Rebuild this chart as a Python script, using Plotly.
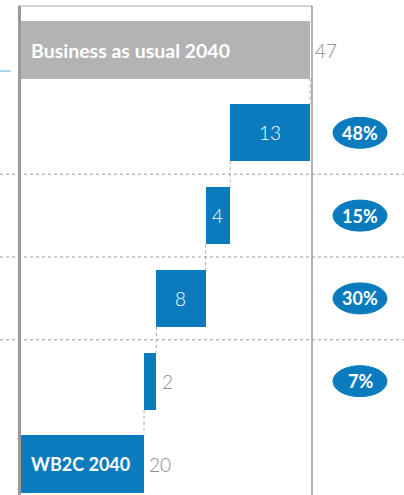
import plotly.graph_objects as go

# ---- data ----
categories = ["Business as usual 2040", "Step 1", "Step 2", "Step 3", "Step 4", "WB2C 2040"]
values = [47, 13, 4, 8, 2, 20]
kinds = ["total", "step", "step", "step", "step", "total"]
shares = ["48%", "15%", "30%", "7%"]
total_names = {0: "Business as usual 2040", 5: "WB2C 2040"}

# ---- styles ----
BLUE = "#0a7bbd"
GREY_BAR = "#b3b3b3"
GREY_TXT = "#8c8c8c"
FONT = "Lato"
name_sizes = {0: 19.5, 5: 18}

# compute waterfall bases
bases = []
level = 0
for v, k in zip(values, kinds):
    if k == "total":
        bases.append(0)
        level = v
    else:
        level -= v
        bases.append(level)

colors = [GREY_BAR if i == 0 else BLUE for i in range(len(values))]
idx = list(range(len(categories)))

fig = go.Figure()
fig.add_trace(go.Bar(
    y=idx, x=values, base=bases, orientation="h",
    marker=dict(color=colors, line=dict(width=0)),
    width=0.69, hoverinfo="skip", showlegend=False,
))

annotations = []
for i, (v, b, k) in enumerate(zip(values, bases, kinds)):
    if k == "total":
        annotations.append(dict(x=0, y=i, xref="x", yref="y", text="<b>%s</b>" % total_names[i],
                                xanchor="left", xshift=8, showarrow=False,
                                font=dict(family=FONT, size=name_sizes[i], color="white")))
        annotations.append(dict(x=b + v, y=i, xref="x", yref="y", text=str(v),
                                xanchor="left", xshift=3, showarrow=False,
                                font=dict(family=FONT, size=19, color=GREY_TXT, weight=300)))
    else:
        if v >= 4:
            annotations.append(dict(x=b + v / 2, y=i, xref="x", yref="y", text=str(v),
                                    xanchor="center", showarrow=False,
                                    font=dict(family=FONT, size=19, color="white", weight=300)))
        else:
            annotations.append(dict(x=b + v, y=i, xref="x", yref="y", text=str(v),
                                    xanchor="left", xshift=4, showarrow=False,
                                    font=dict(family=FONT, size=19, color=GREY_TXT, weight=300)))

shapes = []
# connectors
levels = [b + v if k == "total" else b for v, b, k in zip(values, bases, kinds)]
for i in range(len(values) - 1):
    shapes.append(dict(type="line", xref="x", yref="y", x0=levels[i], x1=levels[i],
                       y0=i + 0.345, y1=i + 1 - 0.345,
                       line=dict(color="#a8a8a8", width=1, dash="dot")))
# separators between step rows
W = 291.0
for i in range(1, 4):
    shapes.append(dict(type="line", xref="paper", yref="y", x0=-21 / W, x1=383 / W,
                       y0=i + 0.5, y1=i + 0.5,
                       line=dict(color="#9a9a9a", width=1, dash="dot")))
# frame
shapes.append(dict(type="line", xref="paper", yref="paper", x0=-1.5 / W, x1=-1.5 / W, y0=-0.01, y1=1,
                   line=dict(color="#9a9a9a", width=3)))
shapes.append(dict(type="line", xref="paper", yref="paper", x0=-3 / W, x1=1.0, y0=1, y1=1,
                   line=dict(color="#a8a8a8", width=1.2)))
shapes.append(dict(type="line", xref="paper", yref="paper", x0=1.0, x1=1.0, y0=-0.01, y1=1,
                   line=dict(color="#999999", width=1.5)))
# small stray blue tick on left
shapes.append(dict(type="line", xref="paper", yref="y", x0=-21 / W, x1=-10 / W, y0=0.254, y1=0.254,
                   line=dict(color="#5aa8dc", width=1)))
# share ellipses
for j, s in enumerate(shares):
    row = j + 1
    shapes.append(dict(type="circle", xref="paper", yref="y", xsizemode="pixel", ysizemode="pixel",
                       xanchor=339 / W, yanchor=row, x0=-27, x1=27, y0=-15.5, y1=15.5,
                       fillcolor=BLUE, line=dict(color=BLUE, width=1)))
    annotations.append(dict(x=339 / W, y=row, xref="paper", yref="y", text="<b>%s</b>" % s,
                            showarrow=False, xanchor="center",
                            font=dict(family=FONT, size=18, color="white")))

sp = 82.8
fig.update_layout(
    width=404, height=495,
    margin=dict(l=21, r=92, t=6, b=0, pad=0),
    plot_bgcolor="white", paper_bgcolor="white",
    xaxis=dict(range=[0, 47.3], visible=False, fixedrange=True),
    yaxis=dict(range=[5 + 31 / sp, -44 / sp], visible=False, fixedrange=True),
    shapes=shapes, annotations=annotations,
    bargap=0,
)

fig.write_html("out.html")
